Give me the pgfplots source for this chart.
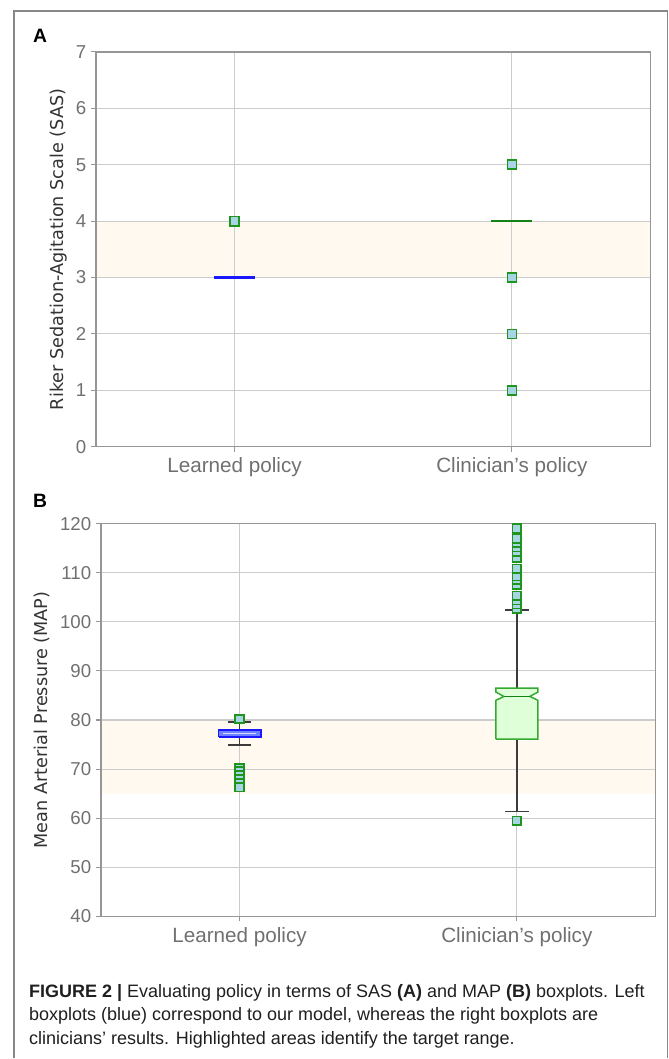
\documentclass[border=0pt]{standalone}
\usepackage{pgfplots}
\pgfplotsset{compat=1.18}
\usepackage{fontspec}
\setmainfont{Liberation Sans}
\newfontfamily\labelfont{DejaVu Sans}
\newfontfamily\capfont{Liberation Sans}

\definecolor{band}{RGB}{255,249,239}
\definecolor{gridc}{RGB}{204,204,204}
\definecolor{spine}{RGB}{150,150,150}
\definecolor{tickc}{RGB}{112,112,112}
\definecolor{outedge}{RGB}{30,150,30}
\definecolor{outfill}{RGB}{168,212,230}
\definecolor{bblue}{RGB}{25,25,255}
\definecolor{bfill}{RGB}{110,130,255}
\definecolor{gmed}{RGB}{20,130,20}
\definecolor{gbox}{RGB}{50,170,50}
\definecolor{gfill}{RGB}{222,255,215}
\definecolor{whisk}{RGB}{60,60,60}
\definecolor{framec}{RGB}{135,135,135}

\pgfplotsset{
  common/.style={
    scale only axis,
    set layers=standard,
    clip=false,
    xmin=-0.5, xmax=1.5,
    xtick={0,1},
    xticklabels={Learned policy, Clinician's policy},
    grid=major,
    major grid style={gridc, line width=0.8pt},
    axis line style={spine, line width=0.9pt},
    tick style={spine, line width=0.8pt},
    major tick length=3.75pt,
    tick align=outside,
    tick pos=left,
    yticklabel style={tickc, font=\fontsize{14}{14}\selectfont},
    xticklabel style={tickc, font=\fontsize{15.5}{16}\selectfont, yshift=-1pt},
    /pgf/number format/assume math mode=true,
    ylabel style={font=\labelfont\fontsize{13.25}{14}\selectfont, color=black!80, anchor=center},
  },
  outl/.style={only marks, mark=square*, mark size=#1,
    mark options={fill=outfill, draw=outedge, line width=1.3pt}},
}

\begin{document}
\begin{tikzpicture}
\path (0,0) rectangle (501.75pt,794.25pt);
\draw[framec, line width=1.1pt] (10.5pt,0pt) -- (10.5pt,786pt) -- (501pt,786pt) -- (501pt,0pt);

% Panel A
\begin{axis}[common,
  at={(72pt,459pt)}, anchor=south west,
  width=416.25pt, height=296.25pt,
  ymin=0, ymax=7, ytick={0,1,...,7},
  ylabel={Riker Sedation-Agitation Scale (SAS)},
  ylabel style={at={(axis description cs:-0.067,0.5)}},
]
\addplot[on layer=axis background, fill=band, draw=none] coordinates {(-0.5,3) (1.5,3) (1.5,4) (-0.5,4) (-0.5,3)};
\addplot[bblue, line width=1.8pt] coordinates {(-0.074,3) (0.074,3)};
\addplot[gmed, line width=1.8pt] coordinates {(0.926,4) (1.074,4)};
\addplot[outl=3.4pt] coordinates {(0,4)};
\addplot[outl=3.4pt] coordinates {(1,5) (1,3) (1,2) (1,1)};
\end{axis}

% Panel B
\begin{axis}[common,
  at={(75.75pt,106.5pt)}, anchor=south west,
  width=416.25pt, height=294.75pt,
  ymin=40, ymax=120, ytick={40,50,...,120},
  ylabel={Mean Arterial Pressure (MAP)},
  ylabel style={at={(axis description cs:-0.107,0.5)}},
]
\addplot[on layer=axis background, fill=band, draw=none] coordinates {(-0.5,65) (1.5,65) (1.5,80) (-0.5,80) (-0.5,65)};
% learned policy box
\addplot[whisk, line width=1.1pt] coordinates {(0,74.9) (0,76.5)};
\addplot[whisk, line width=1.1pt] coordinates {(0,77.9) (0,79.6)};
\addplot[whisk, line width=1.1pt] coordinates {(-0.04,74.9) (0.04,74.9)};
\addplot[whisk, line width=1.1pt] coordinates {(-0.04,79.6) (0.04,79.6)};
\addplot[fill=bfill, draw=bblue, line width=1.3pt] coordinates {(-0.076,76.5) (0.076,76.5) (0.076,77.9) (-0.076,77.9) (-0.076,76.5)};
\addplot[white!85!blue, line width=0.8pt] coordinates {(-0.06,77.2) (0.06,77.2)};
\addplot[outl=3.2pt] coordinates {(0,80.2) (0,70.2) (0,69.5) (0,68.7) (0,67.9) (0,67.1) (0,66.3)};
% clinician box
\addplot[whisk, line width=1.1pt] coordinates {(1,61.4) (1,76.1)};
\addplot[whisk, line width=1.1pt] coordinates {(1,86.5) (1,102.4)};
\addplot[whisk, line width=1.1pt] coordinates {(0.958,61.4) (1.042,61.4)};
\addplot[whisk, line width=1.1pt] coordinates {(0.958,102.4) (1.042,102.4)};
\addplot[fill=gfill, draw=gbox, line width=1.1pt] coordinates {(0.924,76.1) (1.076,76.1) (1.076,84.0) (1.047,84.8) (1.076,85.7) (1.076,86.5) (0.924,86.5) (0.924,85.7) (0.953,84.8) (0.924,84.0) (0.924,76.1)};
\addplot[gmed, line width=1.3pt] coordinates {(0.953,84.8) (1.047,84.8)};
\addplot[outl=3.2pt] coordinates {(1,59.5) (1,102.7) (1,103.6) (1,104.4) (1,105.3) (1,107.6) (1,108.5) (1,109.3) (1,110.8) (1,113.0) (1,114.3) (1,115.2) (1,116.1) (1,116.9) (1,119.0)};
\end{axis}

\node[anchor=base west, inner sep=0pt, font=\bfseries\fontsize{14.5}{15}\selectfont] at (24.75pt,762pt) {A};
\node[anchor=base west, inner sep=0pt, font=\bfseries\fontsize{14.5}{15}\selectfont] at (24.75pt,413.25pt) {B};

\node[anchor=base west, inner sep=0pt, color=black!88, font=\capfont\fontsize{13.5}{16}\selectfont] at (21.75pt,45.75pt) {\textbf{FIGURE 2 |} Evaluating policy in terms of SAS \textbf{(A)} and MAP \textbf{(B)} boxplots. Left};
\node[anchor=base west, inner sep=0pt, color=black!88, font=\capfont\fontsize{13.5}{16}\selectfont] at (21.75pt,28pt) {boxplots (blue) correspond to our model, whereas the right boxplots are};
\node[anchor=base west, inner sep=0pt, color=black!88, font=\capfont\fontsize{13.5}{16}\selectfont] at (21.75pt,10.5pt) {clinicians’ results. Highlighted areas identify the target range.};
\end{tikzpicture}
\end{document}
